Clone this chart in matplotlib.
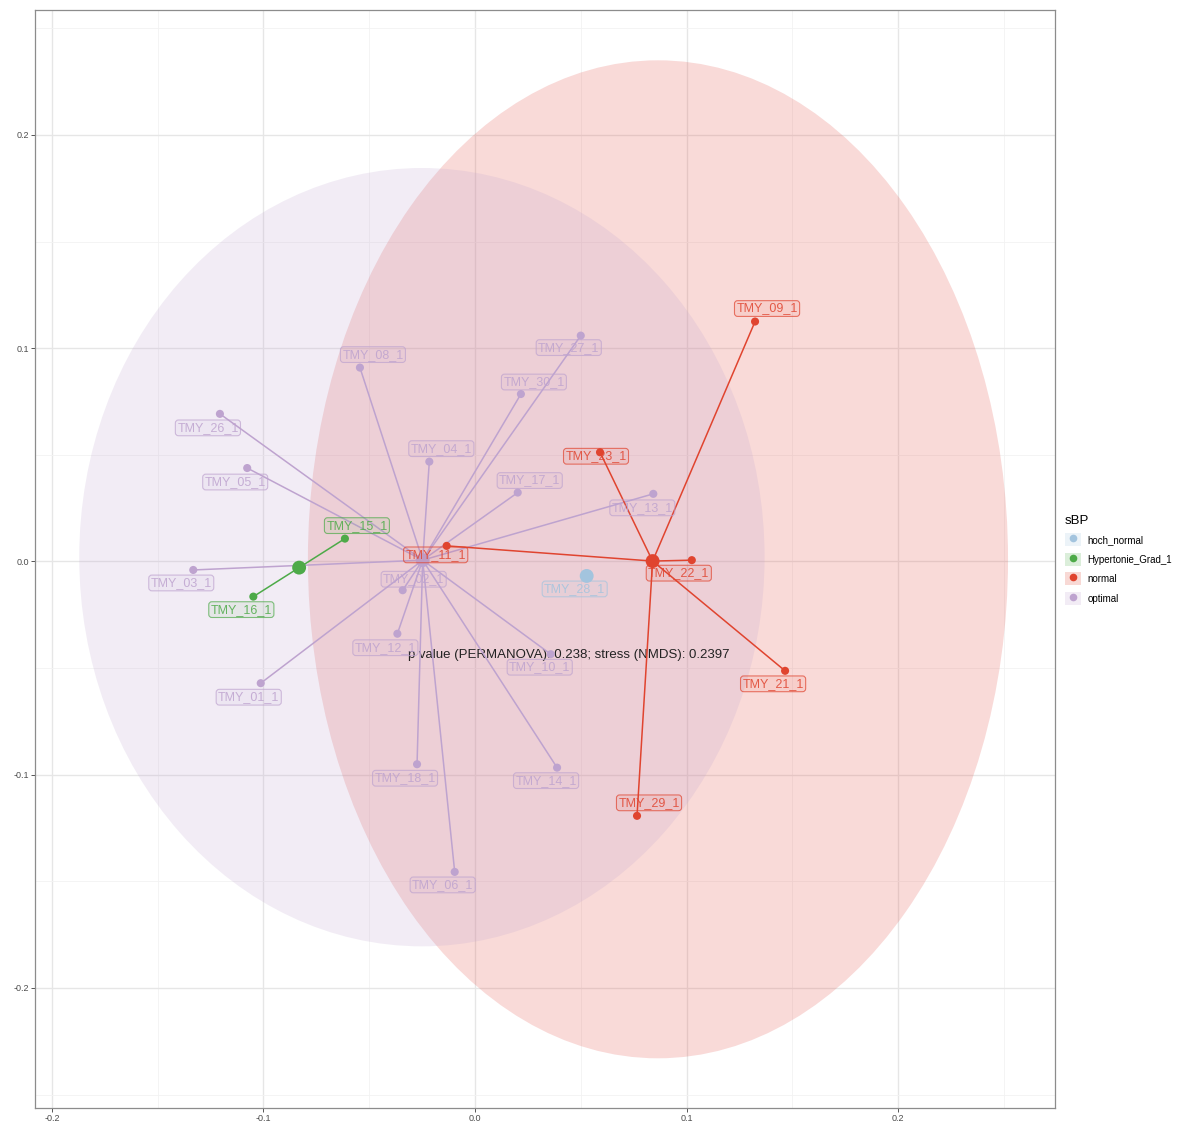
import matplotlib
matplotlib.use("Agg")
import matplotlib.pyplot as plt
import numpy as np
import pandas as pd
from matplotlib.patches import Ellipse, Patch
from matplotlib.lines import Line2D

plt.rcParams["font.family"] = ["Liberation Sans", "DejaVu Sans"]

# NMDS scores per sample
sample_ids = ["TMY_08_1", "TMY_26_1", "TMY_05_1", "TMY_03_1", "TMY_01_1", "TMY_12_1",
              "TMY_02_1", "TMY_18_1", "TMY_06_1", "TMY_14_1", "TMY_10_1", "TMY_04_1",
              "TMY_17_1", "TMY_30_1", "TMY_27_1", "TMY_13_1",
              "TMY_15_1", "TMY_16_1",
              "TMY_11_1", "TMY_23_1", "TMY_09_1", "TMY_22_1", "TMY_21_1", "TMY_29_1",
              "TMY_28_1"]
nmds1 = [-0.0544, -0.1206, -0.1077, -0.1332, -0.1013, -0.0367,
         -0.0342, -0.0274, -0.0096, 0.0388, 0.0358, -0.0216,
         0.0202, 0.0217, 0.0500, 0.0843,
         -0.0615, -0.1048,
         -0.0134, 0.0591, 0.1324, 0.1025, 0.1466, 0.0766,
         0.0528]
nmds2 = [0.0909, 0.0692, 0.0438, -0.0040, -0.0571, -0.0339,
         -0.0135, -0.0951, -0.1456, -0.0967, -0.0435, 0.0468,
         0.0323, 0.0785, 0.1059, 0.0317,
         0.0107, -0.0165,
         0.0073, 0.0512, 0.1125, 0.0006, -0.0513, -0.1193,
         -0.0068]
sbp = ["optimal"] * 16 + ["Hypertonie_Grad_1"] * 2 + ["normal"] * 6 + ["hoch_normal"]

groups = ["hoch_normal", "Hypertonie_Grad_1", "normal", "optimal"]
group_colors = {"hoch_normal": "#A3C4DE", "Hypertonie_Grad_1": "#4DAA48",
                "normal": "#E0442F", "optimal": "#BEA3CF"}
fill_colors = {"normal": "#E2463F", "optimal": "#BEA3CF"}

# 95% ellipses (groups with enough samples)
ellipse_groups = ["normal", "optimal"]
ellipse_cx = [0.0865, -0.0251]
ellipse_cy = [0.0010, 0.0020]
ellipse_w = [0.331, 0.324]
ellipse_h = [0.468, 0.365]

permanova_p = 0.238
nmds_stress = 0.2397

# label nudges in pixels (repelled positions)
label_offsets = {
    "TMY_08_1": (13, 13), "TMY_26_1": (-12, -14), "TMY_05_1": (-12, -14),
    "TMY_03_1": (-12, -13), "TMY_01_1": (-12, -14), "TMY_12_1": (-12, -14),
    "TMY_02_1": (11, 11), "TMY_18_1": (-12, -14), "TMY_06_1": (-12, -13),
    "TMY_14_1": (-11, -13), "TMY_10_1": (-11, -13), "TMY_04_1": (12, 13),
    "TMY_17_1": (12, 12), "TMY_30_1": (13, 12), "TMY_27_1": (-12, -12),
    "TMY_13_1": (-11, -14), "TMY_15_1": (12, 13), "TMY_16_1": (-12, -13),
    "TMY_11_1": (-11, -9), "TMY_23_1": (-4, -4), "TMY_09_1": (12, 13),
    "TMY_22_1": (-13, -13), "TMY_21_1": (-12, -13), "TMY_29_1": (12, 13),
    "TMY_28_1": (-12, -13),
}

df = pd.DataFrame({"sample": sample_ids, "NMDS1": nmds1, "NMDS2": nmds2, "sBP": sbp})
centroids = df.groupby("sBP")[["NMDS1", "NMDS2"]].mean()

fig = plt.figure(figsize=(11.96, 11.22), dpi=100)
ax = fig.add_axes([0.0293, 0.0125, 0.8528, 0.9786])

ax.set_xticks(np.arange(-0.2, 0.21, 0.1))
ax.set_yticks(np.arange(-0.2, 0.21, 0.1))
ax.set_xticks(np.arange(-0.15, 0.26, 0.1), minor=True)
ax.set_yticks(np.arange(-0.25, 0.26, 0.1), minor=True)
ax.set_xticklabels(["-0.2", "-0.1", "0.0", "0.1", "0.2"])
ax.set_yticklabels(["-0.2", "-0.1", "0.0", "0.1", "0.2"])
ax.set_xlim(-0.208, 0.2742)
ax.set_ylim(-0.2563, 0.2586)
ax.tick_params(which="major", labelsize=6.5, labelcolor="#4d4d4d", color="#555555",
               length=3, width=0.7, pad=1.5)
ax.tick_params(which="minor", length=0)
ax.grid(which="major", color="#e6e6e6", lw=1.0)
ax.grid(which="minor", color="#f2f2f2", lw=0.6)
ax.set_axisbelow(True)
for sp in ax.spines.values():
    sp.set_color("#8c8c8c")
    sp.set_linewidth(0.9)

# ellipses
for g, cx, cy, w, h in zip(ellipse_groups, ellipse_cx, ellipse_cy, ellipse_w, ellipse_h):
    ax.add_patch(Ellipse((cx, cy), w, h, facecolor=fill_colors[g], alpha=0.2,
                         edgecolor="none", zorder=1))

ax.text(0.0444, -0.0441,
        f"p value (PERMANOVA): {permanova_p}; stress (NMDS): {nmds_stress}",
        ha="center", va="center", fontsize=9.5, color="#222222", zorder=2)

# spider segments from group centroid
for _, row in df.iterrows():
    c = centroids.loc[row["sBP"]]
    ax.plot([c["NMDS1"], row["NMDS1"]], [c["NMDS2"], row["NMDS2"]],
            color=group_colors[row["sBP"]], lw=1.1, zorder=3)

# points and centroids
for g in groups:
    sub = df[df["sBP"] == g]
    ax.scatter(sub["NMDS1"], sub["NMDS2"], s=34, color=group_colors[g],
               edgecolors="none", zorder=4)
    ax.scatter(centroids.loc[g, "NMDS1"], centroids.loc[g, "NMDS2"], s=100,
               color=group_colors[g], edgecolors="none", zorder=4)

# sample labels
for _, row in df.iterrows():
    rgb = matplotlib.colors.to_rgb(group_colors[row["sBP"]])
    ax.annotate(row["sample"], (row["NMDS1"], row["NMDS2"]),
                xytext=label_offsets[row["sample"]], textcoords="offset pixels",
                ha="center", va="center", fontsize=9, color=(*rgb, 0.85), zorder=5,
                bbox=dict(boxstyle="round,pad=0.15,rounding_size=0.25",
                          fc=(*rgb, 0.08), ec=(*rgb, 0.7), lw=0.8))

# legend
handles = [(Patch(facecolor=group_colors[g], alpha=0.2, edgecolor="none"),
            Line2D([], [], marker="o", linestyle="", markersize=5.5,
                   markerfacecolor=group_colors[g], markeredgecolor="none"))
           for g in groups]
leg = fig.legend(handles, groups, title="sBP", loc="upper left",
                 bbox_to_anchor=(1060 / 1196, 1 - 510 / 1122),
                 frameon=False, fontsize=7, title_fontsize=9.5,
                 handlelength=1.7, handleheight=1.7, labelspacing=0.66,
                 handletextpad=0.6, borderpad=0.0, alignment="left")

fig.savefig("out.png", dpi=100)
